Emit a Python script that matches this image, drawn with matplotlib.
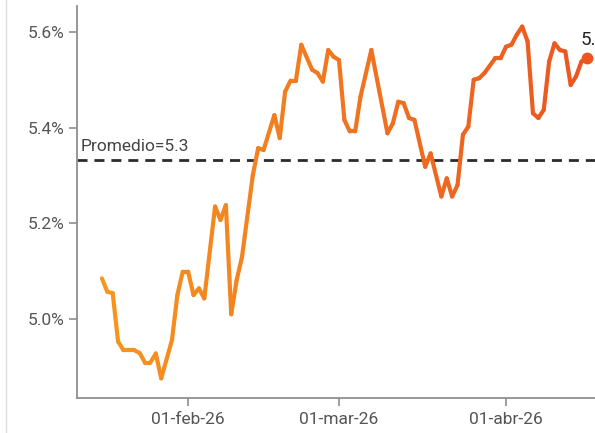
import matplotlib
matplotlib.use("Agg")
import matplotlib.pyplot as plt
import matplotlib.dates as mdates
import matplotlib.ticker as mticker
from matplotlib.collections import LineCollection
from matplotlib.colors import to_rgb
from matplotlib.lines import Line2D
import numpy as np
import pandas as pd

# data
fechas = [
    "2026-01-16", "2026-01-17", "2026-01-18", "2026-01-19", "2026-01-20", "2026-01-22",
    "2026-01-23", "2026-01-24", "2026-01-25", "2026-01-26", "2026-01-27", "2026-01-29",
    "2026-01-30", "2026-01-31", "2026-02-01", "2026-02-02", "2026-02-03", "2026-02-04",
    "2026-02-06", "2026-02-07", "2026-02-08", "2026-02-09", "2026-02-10", "2026-02-11",
    "2026-02-13", "2026-02-14", "2026-02-15", "2026-02-17", "2026-02-18", "2026-02-19",
    "2026-02-20", "2026-02-21", "2026-02-22", "2026-02-24", "2026-02-25", "2026-02-26",
    "2026-02-27", "2026-02-28", "2026-03-01", "2026-03-02", "2026-03-03", "2026-03-04",
    "2026-03-05", "2026-03-07", "2026-03-10", "2026-03-11", "2026-03-12", "2026-03-13",
    "2026-03-14", "2026-03-15", "2026-03-17", "2026-03-18", "2026-03-20", "2026-03-21",
    "2026-03-22", "2026-03-23", "2026-03-24", "2026-03-25", "2026-03-26", "2026-03-27",
    "2026-03-28", "2026-03-30", "2026-03-31", "2026-04-01", "2026-04-02", "2026-04-03",
    "2026-04-04", "2026-04-05", "2026-04-06", "2026-04-07", "2026-04-08", "2026-04-09",
    "2026-04-10", "2026-04-11", "2026-04-12", "2026-04-13", "2026-04-14", "2026-04-15",
    "2026-04-16",
]
tasa = [
    5.085, 5.057, 5.054, 4.953, 4.935, 4.935,
    4.929, 4.909, 4.909, 4.928, 4.876, 4.956,
    5.050, 5.099, 5.099, 5.050, 5.064, 5.043,
    5.235, 5.207, 5.238, 5.010, 5.081, 5.130,
    5.300, 5.357, 5.353, 5.426, 5.378, 5.475,
    5.498, 5.498, 5.573, 5.521, 5.514, 5.496,
    5.562, 5.548, 5.541, 5.416, 5.392, 5.392,
    5.465, 5.562, 5.388, 5.409, 5.454, 5.451,
    5.420, 5.416, 5.318, 5.346, 5.256, 5.294,
    5.256, 5.280, 5.385, 5.402, 5.500, 5.503,
    5.514, 5.545, 5.545, 5.569, 5.573, 5.594,
    5.611, 5.580, 5.430, 5.420, 5.437, 5.538,
    5.576, 5.562, 5.559, 5.489, 5.507, 5.538,
    5.545,
]
promedio = 5.333
etiqueta_prom = "Promedio=5.3"
etiqueta_fin = "5.5%"
yticks = [5.0, 5.2, 5.4, 5.6]
xticks = ["2026-02-01", "2026-03-01", "2026-04-01"]
xtick_labels = ["01-feb-26", "01-mar-26", "01-abr-26"]

plt.rcParams['font.family'] = ['Roboto', 'DejaVu Sans']

W, H, DPI = 595, 433, 100
fig = plt.figure(figsize=(W / DPI, H / DPI), dpi=DPI)
# axes runs past the right edge, like the cropped original
ax = fig.add_axes([77 / W, 35 / H, (608.4 - 77) / W, 392 / H])

x = mdates.date2num(pd.to_datetime(fechas))
y = np.array(tasa)

# orange -> red-orange gradient along time
c0, c1 = np.array(to_rgb('#F7961E')), np.array(to_rgb('#EA5520'))
t = (x - x[0]) / (x[-1] - x[0])
cols = [tuple(c0 + (c1 - c0) * tt) for tt in (t[:-1] + t[1:]) / 2]
pts = np.column_stack([x, y]).reshape(-1, 1, 2)
segs = np.concatenate([pts[:-1], pts[1:]], axis=1)
lc = LineCollection(segs, colors=cols, linewidths=3.0, capstyle='round', joinstyle='round', zorder=3)
ax.add_collection(lc)
ax.plot(x[-1], y[-1], 'o', color=tuple(c1), ms=7.5, zorder=4)

ax.axhline(promedio, color='#2b2b2b', lw=2.0, ls=(0, (3.6, 2.5)), zorder=2)
ax.text(mdates.date2num(pd.Timestamp("2026-01-12")), promedio + 0.012, etiqueta_prom,
        fontsize=12.5, color='#444444', ha='left', va='bottom')
# end label, cut by the right edge as in the original
ax.annotate(etiqueta_fin, (x[-1], y[-1]), xytext=(-4.5, 9.4), textcoords='offset points',
            fontsize=13.5, color='#222222', ha='left', va='baseline')

ax.set_xlim(mdates.date2num(pd.Timestamp("2026-01-11 09:00")),
            mdates.date2num(pd.Timestamp("2026-04-20")))
ax.set_ylim(4.835, 5.654)
ax.set_yticks(yticks)
ax.yaxis.set_major_formatter(mticker.FuncFormatter(lambda v, p: f"{v:.1f}%"))
ax.set_xticks(mdates.date2num(pd.to_datetime(xticks)))
ax.set_xticklabels(xtick_labels)

for s in ['top', 'right']:
    ax.spines[s].set_visible(False)
for s in ['left', 'bottom']:
    ax.spines[s].set_color('#8f8f8f')
    ax.spines[s].set_linewidth(1.3)
ax.tick_params(axis='both', length=6, width=1.2, color='#8f8f8f', labelsize=12.5, labelcolor='#555555')
ax.tick_params(axis='y', pad=3)
ax.tick_params(axis='x', pad=4)

# thin frame line on the far left
fig.add_artist(Line2D([6 / W, 6 / W], [0, 1], transform=fig.transFigure, color='#dcdcdc', lw=1))

fig.savefig("out.png", dpi=DPI)
